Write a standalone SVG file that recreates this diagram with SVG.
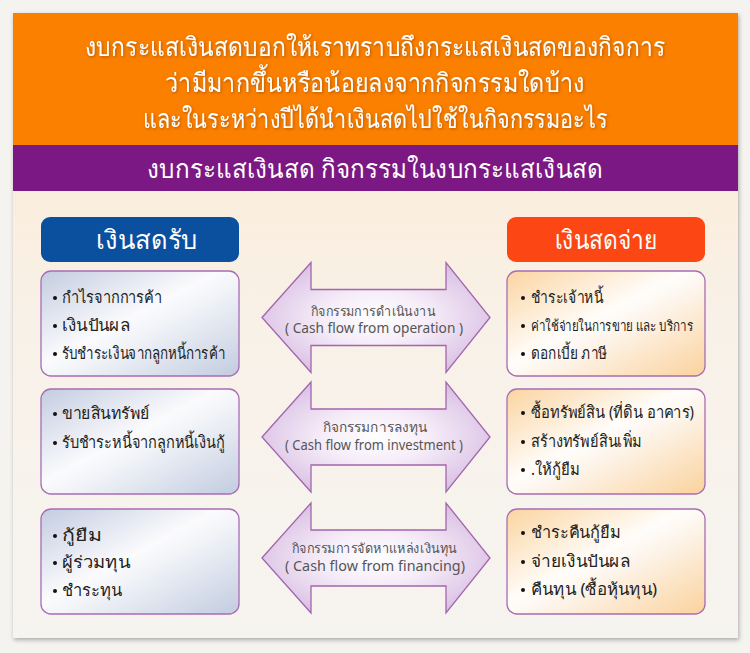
<svg xmlns="http://www.w3.org/2000/svg" width="750" height="653" viewBox="0 0 750 653">
<defs>
<linearGradient id="cream" x1="0" y1="0" x2="0" y2="1">
<stop offset="0" stop-color="#fde9cf"/>
<stop offset="0.5" stop-color="#f8f1e8"/>
<stop offset="1" stop-color="#f6f4f0"/>
</linearGradient>
<linearGradient id="blueBox" x1="0" y1="0" x2="1" y2="1">
<stop offset="0" stop-color="#c3cce0"/>
<stop offset="0.45" stop-color="#fbfbfd"/>
<stop offset="0.55" stop-color="#f2f4f8"/>
<stop offset="1" stop-color="#c2cce0"/>
</linearGradient>
<linearGradient id="orangeBox" x1="0" y1="0" x2="1" y2="1">
<stop offset="0" stop-color="#fbd4a0"/>
<stop offset="0.45" stop-color="#fffdfa"/>
<stop offset="0.55" stop-color="#fdf6ee"/>
<stop offset="1" stop-color="#fbd29c"/>
</linearGradient>
<radialGradient id="arrowFill" cx="0.5" cy="0.5" r="0.6">
<stop offset="0" stop-color="#ffffff"/>
<stop offset="0.4" stop-color="#f5ecf8"/>
<stop offset="1" stop-color="#d6bae1"/>
</radialGradient>
<filter id="shadow" x="-5%" y="-5%" width="110%" height="110%">
<feDropShadow dx="1" dy="2" stdDeviation="2" flood-color="#000" flood-opacity="0.3"/>
</filter>
<filter id="tshadow" x="-5%" y="-30%" width="110%" height="160%">
<feDropShadow dx="1" dy="1" stdDeviation="1.5" flood-color="#7a3a00" flood-opacity="0.6"/>
</filter>
<path id="dblArrow" d="M0,0 L49,-55 L49,-28 L184,-28 L184,-55 L228,0 L184,55 L184,28 L49,28 L49,55 Z"/>
</defs>
<style>
.th{font-family:"Noto Sans","DejaVu Sans",sans-serif;}
.head{font-size:26px;fill:#ffffff;text-anchor:middle;}
.box{stroke:#a86cb4;stroke-width:1.3;}
.item{font-size:16.5px;fill:#222222;}
.small{font-size:14.5px;}
.dot{fill:#111111;}
.alab{font-size:13.5px;fill:#555555;text-anchor:middle;}
.arrow{fill:url(#arrowFill);stroke:#a266ad;stroke-width:1.3;}
</style>
<rect x="0" y="0" width="750" height="653" fill="#f4f3f0"/>
<g id="panel" filter="url(#shadow)">
<rect x="13" y="13" width="725" height="625" fill="url(#cream)"/>
</g>
<g id="header">
<rect x="13" y="13" width="725" height="132" fill="#fb8000"/>
<g class="th head" filter="url(#tshadow)">
<text x="375" y="56" textLength="580" lengthAdjust="spacingAndGlyphs">งบกระแสเงินสดบอกให้เราทราบถึงกระแสเงินสดของกิจการ</text>
<text x="375" y="92" textLength="420" lengthAdjust="spacingAndGlyphs">ว่ามีมากขึ้นหรือน้อยลงจากกิจกรรมใดบ้าง</text>
<text x="375" y="128" textLength="465" lengthAdjust="spacingAndGlyphs">และในระหว่างปีได้นำเงินสดไปใช้ในกิจกรรมอะไร</text>
</g>
</g>
<g id="subheader">
<rect x="13" y="145" width="725" height="46" fill="#7c1883"/>
<text class="th head" x="375" y="178" textLength="456" lengthAdjust="spacingAndGlyphs">งบกระแสเงินสด กิจกรรมในงบกระแสเงินสด</text>
</g>
<g id="cash-in-title">
<rect x="41" y="217" width="198" height="45" rx="9" fill="#0b4f9f"/>
<text class="th head" x="147" y="249" textLength="102" lengthAdjust="spacingAndGlyphs">เงินสดรับ</text>
</g>
<g id="cash-out-title">
<rect x="507" y="217" width="198" height="45" rx="9" fill="#fc4714"/>
<text class="th head" x="606" y="249" textLength="103" lengthAdjust="spacingAndGlyphs">เงินสดจ่าย</text>
</g>
<g id="in-operation">
<rect class="box" x="41" y="271" width="198" height="105" rx="10" fill="url(#blueBox)"/>
<circle class="dot" cx="55" cy="298" r="2"/><text class="th item" x="62" y="303" textLength="100" lengthAdjust="spacingAndGlyphs">กำไรจากการค้า</text>
<circle class="dot" cx="55" cy="326" r="2"/><text class="th item" x="62" y="331" textLength="68" lengthAdjust="spacingAndGlyphs">เงินปันผล</text>
<circle class="dot" cx="55" cy="354" r="2"/><text class="th item" x="62" y="359" textLength="163" lengthAdjust="spacingAndGlyphs">รับชำระเงินจากลูกหนี้การค้า</text>
</g>
<g id="in-investment">
<rect class="box" x="41" y="389" width="198" height="105" rx="10" fill="url(#blueBox)"/>
<circle class="dot" cx="55" cy="414" r="2"/><text class="th item" x="62" y="419" textLength="88" lengthAdjust="spacingAndGlyphs">ขายสินทรัพย์</text>
<circle class="dot" cx="55" cy="443" r="2"/><text class="th item" x="62" y="448" textLength="163" lengthAdjust="spacingAndGlyphs">รับชำระหนี้จากลูกหนี้เงินกู้</text>
</g>
<g id="in-financing">
<rect class="box" x="41" y="509" width="198" height="105" rx="10" fill="url(#blueBox)"/>
<circle class="dot" cx="55" cy="536" r="2"/><text class="th item" x="62" y="541" textLength="40" lengthAdjust="spacingAndGlyphs">กู้ยืม</text>
<circle class="dot" cx="55" cy="563" r="2"/><text class="th item" x="62" y="568" textLength="68" lengthAdjust="spacingAndGlyphs">ผู้ร่วมทุน</text>
<circle class="dot" cx="55" cy="591" r="2"/><text class="th item" x="62" y="596" textLength="60" lengthAdjust="spacingAndGlyphs">ชำระทุน</text>
</g>
<g id="out-operation">
<rect class="box" x="507" y="271" width="198" height="105" rx="10" fill="url(#orangeBox)"/>
<circle class="dot" cx="523" cy="298" r="2"/><text class="th item" x="531" y="303" textLength="72" lengthAdjust="spacingAndGlyphs">ชำระเจ้าหนี้</text>
<circle class="dot" cx="523" cy="326" r="2"/><text class="th item small" x="531" y="331" textLength="162" lengthAdjust="spacingAndGlyphs">ค่าใช้จ่ายในการขาย และ บริการ</text>
<circle class="dot" cx="523" cy="354" r="2"/><text class="th item" x="531" y="359" textLength="76" lengthAdjust="spacingAndGlyphs">ดอกเบี้ย ภาษี</text>
</g>
<g id="out-investment">
<rect class="box" x="507" y="389" width="198" height="105" rx="10" fill="url(#orangeBox)"/>
<circle class="dot" cx="523" cy="413" r="2"/><text class="th item" x="531" y="418" textLength="163" lengthAdjust="spacingAndGlyphs">ซื้อทรัพย์สิน (ที่ดิน อาคาร)</text>
<circle class="dot" cx="523" cy="442" r="2"/><text class="th item" x="531" y="447" textLength="111" lengthAdjust="spacingAndGlyphs">สร้างทรัพย์สินเพิ่ม</text>
<circle class="dot" cx="523" cy="470" r="2"/><text class="th item" x="531" y="475" textLength="49" lengthAdjust="spacingAndGlyphs">.ให้กู้ยืม</text>
</g>
<g id="out-financing">
<rect class="box" x="507" y="509" width="198" height="105" rx="10" fill="url(#orangeBox)"/>
<circle class="dot" cx="523" cy="533" r="2"/><text class="th item" x="531" y="538" textLength="90" lengthAdjust="spacingAndGlyphs">ชำระคืนกู้ยืม</text>
<circle class="dot" cx="523" cy="562" r="2"/><text class="th item" x="531" y="567" textLength="99" lengthAdjust="spacingAndGlyphs">จ่ายเงินปันผล</text>
<circle class="dot" cx="523" cy="590" r="2"/><text class="th item" x="531" y="595" textLength="126" lengthAdjust="spacingAndGlyphs">คืนทุน (ซื้อหุ้นทุน)</text>
</g>
<g id="connectors">
<g id="arrow-operation">
<use href="#dblArrow" class="arrow" transform="translate(262,317.5)"/>
<text class="th alab" x="373" y="316" textLength="124" lengthAdjust="spacingAndGlyphs">กิจกรรมการดำเนินงาน</text>
<text class="th alab" x="374" y="333" textLength="178" lengthAdjust="spacingAndGlyphs">( Cash flow from operation )</text>
</g>
<g id="arrow-investment">
<use href="#dblArrow" class="arrow" transform="translate(262,437)"/>
<text class="th alab" x="375" y="432" textLength="104" lengthAdjust="spacingAndGlyphs">กิจกรรมการลงทุน</text>
<text class="th alab" x="374" y="450" textLength="178" lengthAdjust="spacingAndGlyphs">( Cash flow from investment )</text>
</g>
<g id="arrow-financing">
<use href="#dblArrow" class="arrow" transform="translate(262,558)"/>
<text class="th alab" x="374" y="553" textLength="165" lengthAdjust="spacingAndGlyphs">กิจกรรมการจัดหาแหล่งเงินทุน</text>
<text class="th alab" x="375" y="571" textLength="180" lengthAdjust="spacingAndGlyphs">( Cash flow from financing)</text>
</g>
</g>
</svg>
